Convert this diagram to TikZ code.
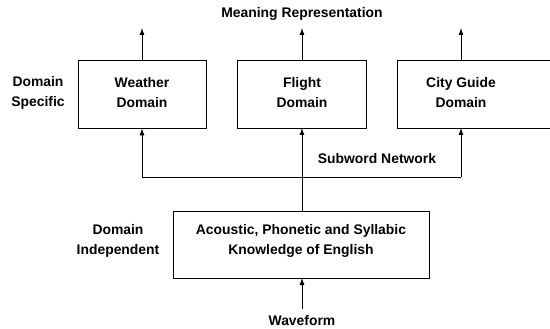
\documentclass[tikz,border=0pt]{standalone}
\usepackage{fontspec}
\setmainfont{Liberation Sans}
\usetikzlibrary{arrows.meta}
\begin{document}
\begin{tikzpicture}[x=1pt,y=-1pt,
  txt/.style={font=\bfseries\fontsize{13.9}{20}\selectfont, align=center, inner sep=0pt},
  box/.style={draw, line width=0.8pt, inner sep=0pt},
  arr/.style={-{Latex[length=7pt,width=5pt]}, line width=0.8pt},
  ln/.style={line width=0.8pt}]
\useasboundingbox (0,0) rectangle (550,329);
\clip (0,0) rectangle (550,329);
% boxes
\node[box, minimum width=128pt, minimum height=68pt] (w) at (142,94) {};
\node[box, minimum width=129pt, minimum height=68pt] (f) at (301.5,94) {};
\node[box, minimum width=160pt, minimum height=68pt, anchor=west] (c) at (397,94) {};
\node[box, minimum width=256pt, minimum height=67pt] (k) at (301,244.5) {};
\node[txt] at (142,93) {Weather\\Domain};
\node[txt] at (302,93) {Flight\\Domain};
\node[txt] at (461,93) {City Guide\\Domain};
\node[txt] at (301,241) {Acoustic, Phonetic and Syllabic\\Knowledge of English};
% labels
\node[txt] (mr) at (302,14) {Meaning Representation};
\node[txt] (sw) at (377,159) {Subword Network};
\node[txt] (ds) at (38,93) {Domain\\Specific};
\node[txt] (di) at (118,241) {Domain\\Independent};
\node[txt] (wf) at (302,321) {Waveform};
% top arrows
\coordinate (wt) at (142,28);
\coordinate (ft) at (302,28);
\coordinate (ct) at (461,28);
\draw[arr] (w.north) -- (wt);
\draw[arr] (302,60) -- (ft);
\draw[arr] (461,60) -- (ct);
% subword network
\coordinate (hl) at (142,177.5);
\coordinate (hm) at (302,177.5);
\coordinate (hr) at (461,177.5);
\draw[ln] (hl) -- (hr);
\draw[arr] (hl) -- (w.south);
\draw[arr] (hm) -- (302,128);
\draw[arr] (hr) -- (461,128);
\draw[ln] (hm) -- (302,211);
% waveform
\coordinate (wb) at (302,309);
\draw[arr] (wb) -- (302,278);
\end{tikzpicture}
\end{document}
